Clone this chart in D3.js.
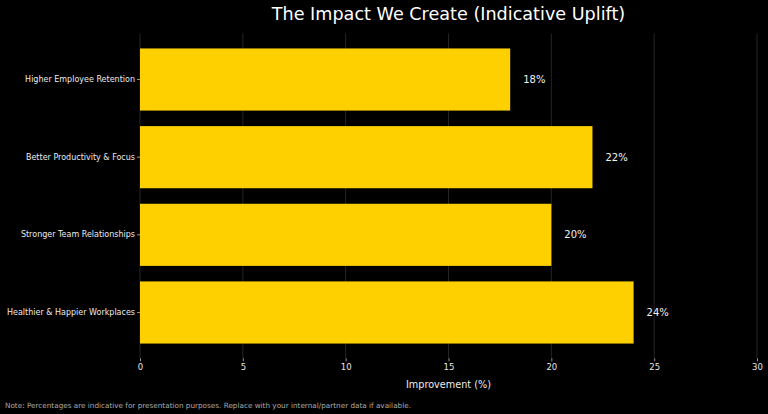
<!DOCTYPE html>
<html>
<head>
<meta charset="utf-8">
<script src="https://cdn.jsdelivr.net/npm/d3@7"></script>
<style>
  html, body { margin: 0; padding: 0; background: #000; }
  svg { display: block; font-family: "DejaVu Sans", sans-serif; }
</style>
</head>
<body>
<div id="chart"></div>
<script>
// data
var categories = ['Higher Employee Retention', 'Better Productivity & Focus', 'Stronger Team Relationships', 'Healthier & Happier Workplaces'];
var values = [18, 22, 20, 24];
var xTicks = [0, 5, 10, 15, 20, 25, 30];

var width = 768, height = 414;
var plotLeft = 140, plotRight = 757, plotTop = 33.7, plotBottom = 358.3;

var svg = d3.select('#chart')
  .append('svg')
  .attr('width', width)
  .attr('height', height);

svg.append('rect')
  .attr('width', width)
  .attr('height', height)
  .attr('fill', '#000');

var x = d3.scaleLinear().domain([0, 30]).range([plotLeft, plotRight]);
var y = d3.scaleBand()
  .domain(categories)
  .range([plotTop, plotBottom])
  .paddingInner(0.2)
  .paddingOuter(0.19);

// vertical grid
svg.append('g')
  .selectAll('line')
  .data(xTicks)
  .enter()
  .append('line')
  .attr('x1', d => x(d))
  .attr('x2', d => x(d))
  .attr('y1', plotTop)
  .attr('y2', plotBottom)
  .attr('stroke', '#2e2e2e')
  .attr('stroke-width', 0.8);

// bars
svg.append('g')
  .selectAll('rect')
  .data(values)
  .enter()
  .append('rect')
  .attr('x', x(0))
  .attr('y', (d, i) => y(categories[i]))
  .attr('width', d => x(d) - x(0))
  .attr('height', y.bandwidth())
  .attr('fill', '#ffd000');

// value labels
svg.append('g')
  .selectAll('text')
  .data(values)
  .enter()
  .append('text')
  .attr('x', d => x(d) + 13)
  .attr('y', (d, i) => y(categories[i]) + y.bandwidth() / 2)
  .attr('dy', '0.35em')
  .attr('fill', '#f2f2f2')
  .style('font-size', '10px')
  .text(d => d + '%');

// x axis
var xAxis = svg.append('g')
  .attr('transform', 'translate(0,' + plotBottom + ')')
  .call(d3.axisBottom(x).tickValues(xTicks).tickSize(3).tickPadding(2.5).tickFormat(d3.format('d')));
xAxis.select('.domain').remove();
xAxis.selectAll('line').attr('stroke', '#bbb').attr('stroke-width', 0.8);
xAxis.selectAll('text').attr('fill', '#e6e6e6').style('font-size', '8.5px').style('font-family', '"DejaVu Sans", sans-serif');

// y axis
var yAxis = svg.append('g')
  .attr('transform', 'translate(' + plotLeft + ',0)')
  .call(d3.axisLeft(y).tickSize(3).tickPadding(2));
yAxis.select('.domain').remove();
yAxis.selectAll('line').attr('stroke', '#bbb').attr('stroke-width', 0.8);
yAxis.selectAll('text').attr('fill', '#ececec').style('font-size', '8px').style('font-family', '"DejaVu Sans", sans-serif');

// title
svg.append('text')
  .attr('x', (plotLeft + plotRight) / 2)
  .attr('y', 20)
  .attr('text-anchor', 'middle')
  .attr('fill', '#fff')
  .style('font-size', '17.6px')
  .text('The Impact We Create (Indicative Uplift)');

// x label
svg.append('text')
  .attr('x', (plotLeft + plotRight) / 2)
  .attr('y', 388)
  .attr('text-anchor', 'middle')
  .attr('fill', '#eee')
  .style('font-size', '9.7px')
  .text('Improvement (%)');

// footnote
svg.append('text')
  .attr('x', 5)
  .attr('y', 408)
  .attr('fill', '#aaa')
  .style('font-size', '7.25px')
  .text('Note: Percentages are indicative for presentation purposes. Replace with your internal/partner data if available.');
</script>
</body>
</html>
